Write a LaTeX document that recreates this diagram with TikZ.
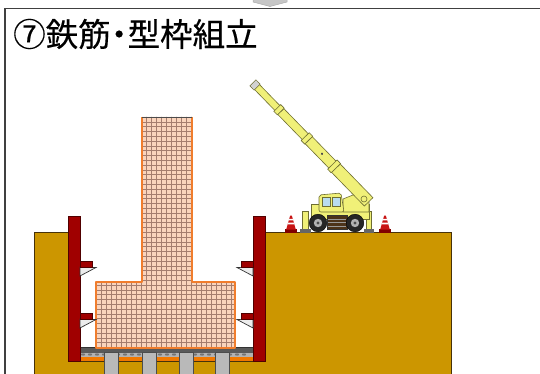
\documentclass[tikz,border=0pt]{standalone}
\usepackage{fontspec}
\newfontfamily\jpfont[FakeBold=0.4]{Noto Sans CJK JP}
\definecolor{soil}{RGB}{204,150,0}
\definecolor{soilline}{RGB}{70,50,10}
\definecolor{wallred}{RGB}{160,0,0}
\definecolor{wallline}{RGB}{80,0,0}
\definecolor{rebarfill}{RGB}{250,212,188}
\definecolor{rebargrid}{RGB}{165,125,110}
\definecolor{rebaredge}{RGB}{240,125,45}
\definecolor{stripor}{RGB}{240,120,0}
\definecolor{craneyel}{RGB}{240,240,120}
\definecolor{craneline}{RGB}{110,110,50}
\definecolor{glass}{RGB}{185,220,240}
\definecolor{conered}{RGB}{200,20,20}
\begin{document}
\begin{tikzpicture}[x=1pt,y=-1pt,
  soilbody/.style={fill=soil,draw=soilline,line width=0.8pt},
  sheetwall/.style={fill=wallred,draw=wallline,line width=0.6pt},
  brace/.style={fill=gray!15,draw=black!80,line width=0.7pt},
  gridline/.style={draw=rebargrid,line width=0.35pt},
  pile/.style={fill=gray!55,draw=black!70,line width=0.6pt},
  boom/.style={fill=craneyel,draw=craneline,line width=0.6pt},
  crbody/.style={fill=craneyel,draw=craneline,line width=0.6pt},
  tyre/.style={fill=black!85,draw=black},
  framestroke/.style={draw=black!75,line width=1.6pt}]
\useasboundingbox (0,0) rectangle (540,374);
\begin{scope}
\clip (0,0) rectangle (540,374);

% page frame and the arrow tip above it
\draw[fill=gray!45,draw=gray!65,line width=0.5pt]
  (253,-1) -- (287,-1) -- (287,2) -- (270,6.5) -- (253,2) -- cycle;
\draw[framestroke] (5,376) -- (5,8.5) -- (542,8.5);

% title
\node[anchor=west,inner sep=0pt,font=\jpfont\fontsize{32.5}{36}\selectfont]
  (title) at (13,34) {⑦鉄筋{\kern-0.24em}・{\kern-0.24em}型枠組立};

% ground with the excavation
\path[soilbody] (34,380) -- (34,232) -- (68,232) -- (68,361) -- (265,361)
  -- (265,232) -- (451,232) -- (451,380) -- cycle;

% bottom layers: sand, crushed stone, levelling concrete
\fill[stripor] (80,356) rectangle (254,361);
\fill[gray!60] (80,352) rectangle (254,357);
\foreach \x in {83,90,...,250} \fill[black!55] (\x,354.5) ellipse (2.2 and 1.1);
\fill[gray!70!black] (80,347.5) rectangle (254,352.5);
\draw[black!80,line width=0.8pt] (80,347.8) -- (254,347.8);

% piles
\foreach \px in {104,142,179,215}
  \draw[pile] (\px,352.5) rectangle (\px+14,380);

% footing and column reinforcement cage
\path[fill=rebarfill] (142,117) -- (192,117) -- (192,282) -- (235,282)
  -- (235,348) -- (96,348) -- (96,282) -- (142,282) -- cycle;
\begin{scope}
  \clip (142,117) -- (192,117) -- (192,282) -- (235,282)
    -- (235,348) -- (96,348) -- (96,282) -- (142,282) -- cycle;
  \foreach \x in {96,101,...,236} \draw[gridline] (\x,115) -- (\x,350);
  \foreach \y in {117,121.8,...,350} \draw[gridline] (94,\y) -- (237,\y);
\end{scope}
\draw[rebaredge,line width=1.8pt,line join=round]
  (142,117) -- (142,282) -- (96,282) -- (96,348) -- (235,348)
  -- (235,282) -- (192,282) -- (192,117);
\draw[black!70,line width=0.9pt] (142,117) -- (192,117);

% sheet pile walls
\draw[sheetwall] (68,216) rectangle (80,361);
\draw[sheetwall] (253,216) rectangle (265,361);

% wale brackets on the left wall
\foreach \by in {261,313} {
  \draw[brace] (80,\by+6) -- (96,\by+6.5) -- (80,\by+15) -- cycle;
  \draw[sheetwall] (80,\by) rectangle (92,\by+6.5);
}
% wale brackets on the right wall
\foreach \by in {261,313} {
  \draw[brace] (253,\by+6) -- (237,\by+6.5) -- (253,\by+15) -- cycle;
  \draw[sheetwall] (241,\by) rectangle (253,\by+6.5);
}

% rough terrain crane: carrier and superstructure
\draw[crbody] (302,211) rectangle (308,230);
\draw[crbody] (366,211) rectangle (371,230);
\fill[black!60] (300,229) rectangle (311,232.5);
\fill[black!60] (364,229) rectangle (374,232.5);
\draw[crbody] (311,204) rectangle (369,219);
\draw[crbody] (343,212) -- (343,199) -- (358,193) -- (369,197) -- (369,212) -- cycle;
\draw[crbody,rounded corners=2pt] (319,212) -- (319,195) -- (341,193) -- (344,212) -- cycle;
\draw[fill=glass,draw=craneline,line width=0.5pt] (322,197.5) rectangle (330,206);
\draw[fill=glass,draw=craneline,line width=0.5pt] (332,197.5) rectangle (340,206);
\draw[fill=black!60!brown,draw=black!80,line width=0.5pt] (327,215) rectangle (347,229);
\foreach \ly in {219,222.5,226} \draw[black!40,line width=0.5pt] (328,\ly) -- (346,\ly);
\foreach \wx in {318,355} {
  \draw[tyre] (\wx,223) circle (8.8);
  \fill[gray!60] (\wx,223) circle (4.2);
  \fill[black!70] (\wx,223) circle (1.6);
}

% telescopic boom
\begin{scope}[shift={(255,85)},rotate=-45.8]
  \draw[boom] (113,-6) rectangle (163,6);
  \draw[boom] (74,-5) rectangle (116,5);
  \draw[boom] (34,-4.2) rectangle (77,4.2);
  \draw[boom] (0,-3.5) rectangle (37,3.5);
  \draw[boom] (111,-6.6) rectangle (116,6.6);
  \draw[boom] (72,-5.6) rectangle (77,5.6);
  \draw[boom] (32,-4.8) rectangle (37,4.8);
  \draw[fill=gray!35,draw=craneline,line width=0.5pt] (-3,-4.3) rectangle (3,4.3);
  \fill[black!70] (96,0) circle (1.3);
\end{scope}
\draw[crbody] (364,199) circle (3);

% traffic cones
\foreach \cx in {291,385} {
  \fill[wallred!80!black] (\cx-6,229) rectangle (\cx+6,233);
  \fill[conered] (\cx-4.8,229.5) -- (\cx-0.8,215.5) -- (\cx+0.8,215.5) -- (\cx+4.8,229.5) -- cycle;
  \fill[white] (\cx-2.9,222.6) -- (\cx+2.9,222.6) -- (\cx+3.4,224.4) -- (\cx-3.4,224.4) -- cycle;
  \fill[white] (\cx-1.8,218.8) -- (\cx+1.8,218.8) -- (\cx+2.2,220.3) -- (\cx-2.2,220.3) -- cycle;
}
\end{scope}
\end{tikzpicture}
\end{document}
